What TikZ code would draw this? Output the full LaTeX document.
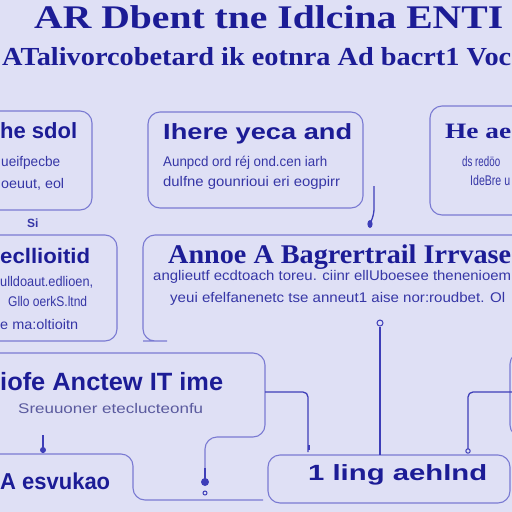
\documentclass[tikz,border=0pt]{standalone}
\usepackage{fontspec}
\setmainfont{Liberation Serif}
\setsansfont{Liberation Sans}
\usepackage{graphicx}
\newcommand{\fw}[2]{\resizebox{#1pt}{\height}{#2}}
\definecolor{bg}{HTML}{DFE0F5}
\definecolor{ink}{HTML}{1C1C96}
\definecolor{ink2}{HTML}{3636A6}
\definecolor{greyink}{HTML}{5A5A9E}
\definecolor{boxc}{HTML}{7A7AD2}
\definecolor{linec}{HTML}{3E3EB8}
\tikzset{
  box/.style={draw=boxc, line width=1.1pt, rounded corners=12pt},
  conn/.style={draw=linec, line width=1.3pt, rounded corners=5pt},
  ttlserif/.style={anchor=base west, inner sep=0pt, text=ink, font=\bfseries},
  ttlsans/.style={anchor=base west, inner sep=0pt, text=ink, font=\sffamily\bfseries},
  body/.style={anchor=base west, inner sep=0pt, text=ink2, font=\sffamily\fontsize{14}{16}\selectfont},
  blob/.style={fill=linec, draw=none},
  ring/.style={draw=linec, line width=1pt, fill=bg}
}
\begin{document}
\begin{tikzpicture}[x=1pt,y=-1pt]
\useasboundingbox (0,0) rectangle (512,512);
\fill[bg] (0,0) rectangle (512,512);

% titles
\node[ttlserif, font=\bfseries\fontsize{33}{38}\selectfont] (t1) at (34,28) {\fw{469}{AR Dbent tne Idlcina ENTI}};
\node[ttlserif, font=\bfseries\fontsize{26}{30}\selectfont] (t2) at (2,65) {\fw{509}{ATalivorcobetard ik eotnra Ad bacrt1 Voc}};

% boxes
\draw[box] (-20,111) rectangle (92,210);
\draw[box] (148,112) rectangle (363,208);
\draw[box] (430,106) rectangle (560,215);
\draw[box] (-20,235) rectangle (117,341);
\draw[box] (160,341) -- (155,341) -- (143,341) -- (143,235) -- (560,235);
\draw[box] (-20,353) -- (265,353) -- (265,437) -- (205,437) -- (205,470);
\draw[box] (-20,454) -- (133,454) -- (133,500) -- (263,500);
\draw[box] (268,455) rectangle (510,503);
\draw[box] (510,352) rectangle (560,437);

% box A
\node[ttlsans, font=\sffamily\bfseries\fontsize{22}{26}\selectfont] (a0) at (0,138) {\fw{77}{he sdol}};
\node[body] (a1) at (1,166) {\fw{59}{ueifpecbe}};
\node[body] (a2) at (1,188) {\fw{63}{oeuut, eol}};
\node[body, font=\sffamily\bfseries\fontsize{12}{13}\selectfont] (a3) at (27,227) {Si};

% box B
\node[ttlsans, font=\sffamily\bfseries\fontsize{22}{26}\selectfont] (b0) at (163,139) {\fw{189}{Ihere yeca and}};
\node[body] (b1) at (163,166) {\fw{164}{Aunpcd ord réj ond.cen iarh}};
\node[body] (b2) at (163,186) {\fw{177}{dulfne gounrioui eri eogpirr}};

% box C
\node[ttlserif, font=\bfseries\fontsize{22}{26}\selectfont] (c0) at (445,138) {\fw{66}{He ae}};
\node[body] (c1) at (462,166) {\fw{38}{ds redöo}};
\node[body] (c2) at (470,185) {\fw{40}{IdeBre u}};

% box D
\node[ttlsans, font=\sffamily\bfseries\fontsize{21}{25}\selectfont] (d0) at (0,263) {\fw{90}{ecllioitid}};
\node[body] (d1) at (0,286) {\fw{93}{ulldoaut.edlioen,}};
\node[body] (d2) at (8,306) {\fw{79}{Gllo oerkS.ltnd}};
\node[body] (d3) at (0,329) {\fw{78}{e ma:oltioitn}};

% box E
\node[ttlserif, font=\bfseries\fontsize{27}{31}\selectfont] (e0) at (168,263) {\fw{343}{Annoe A Bagrertrail Irrvase}};
\node[body] (e1) at (153,280) {\fw{358}{anglieutf ecdtoach toreu. ciinr ellUboesee thenenioem}};
\node[body] (e2) at (170,302) {\fw{335}{yeui efelfanenetc tse anneut1 aise nor:roudbet. Ol}};

% box F
\node[ttlsans, font=\sffamily\bfseries\fontsize{25}{29}\selectfont] (f0) at (0,390) {\fw{223}{iofe Anctew IT ime}};
\node[body, text=greyink] (f1) at (18,413) {\fw{185}{Sreuuoner eteclucteonfu}};

% box G, H
\node[ttlsans, font=\sffamily\bfseries\fontsize{23}{27}\selectfont] (g0) at (0,489) {\fw{110}{A esvukao}};
\node[ttlsans, font=\sffamily\bfseries\fontsize{22}{26}\selectfont] (h0) at (308,480) {\fw{179}{1 ling aehlnd}};

% connector coordinates
\coordinate (k1a) at (374,186);
\coordinate (k1b) at (370,224);
\coordinate (k2a) at (380,327);
\coordinate (k2b) at (380,455);
\coordinate (k3a) at (265,392);
\coordinate (k3b) at (308,452);
\coordinate (k4a) at (512,392);
\coordinate (k4b) at (468,450);
\coordinate (k5a) at (43,435);
\coordinate (k5b) at (43,453);
\coordinate (k6a) at (205,468);
\coordinate (k6b) at (205,482);

% connectors
\draw[conn] (k1a) -- (374,214) -- (k1b);
\fill[blob] (k1b) ellipse (2.6pt and 4pt);
\draw[conn] (k2a) -- (k2b);
\draw[ring] (380,323) circle (3pt);
\draw[conn] (k3a) -| (k3b);
\fill[blob] (308,445) rectangle (310,450);
\draw[conn] (k4a) -| (k4b);
\draw[ring] (468,451) circle (2.2pt);
\draw[conn] (k5a) -- (k5b);
\fill[blob] (43,450) circle (3pt);
\draw[conn] (k6a) -- (k6b);
\fill[blob] (k6b) circle (4pt);
\draw[ring] (205,493) circle (2pt);
\end{tikzpicture}
\end{document}
